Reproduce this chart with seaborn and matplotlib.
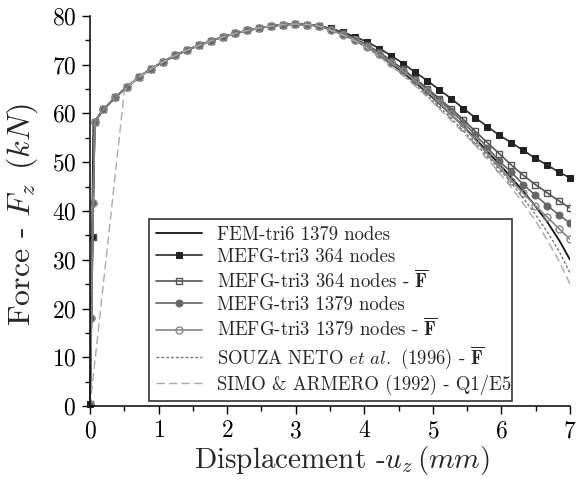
import numpy as np
import pandas as pd
import seaborn as sns
import matplotlib.pyplot as plt
from matplotlib.ticker import MultipleLocator

sns.set_style('ticks')
plt.rcParams['font.family'] = 'serif'
plt.rcParams['font.serif'] = ['cmr10', 'DejaVu Serif']
plt.rcParams['mathtext.fontset'] = 'cm'
plt.rcParams['axes.formatter.use_mathtext'] = True
plt.rcParams['axes.unicode_minus'] = False

# load-step displacements (mm) after the elastic part
u_grid = [0.195, 0.37, 0.545, 0.72, 0.895, 1.07, 1.245, 1.42, 1.595, 1.77,
          1.945, 2.12, 2.295, 2.47, 2.645, 2.82, 2.995, 3.17, 3.345,
          3.52, 3.695, 3.87, 4.045, 4.22, 4.395, 4.57, 4.745, 4.92, 5.095,
          5.27, 5.445, 5.62, 5.795, 5.97, 6.145, 6.32, 6.495, 6.67, 6.845, 7.0]

# hardening branch, same for every model (u = 0.195 ... 3.345)
f_common = [60.8, 63.3, 65.5, 67.5, 69.2, 70.6, 71.9, 73.0, 74.0, 74.9,
            75.7, 76.4, 77.0, 77.5, 77.9, 78.2, 78.3, 78.2, 77.9]

# softening branch (u = 3.52 ... 7.0)
f_fem = [77.1, 76.2, 75.0, 73.6, 72.0, 70.2, 68.3, 66.3, 64.2, 62.0,
         59.7, 57.3, 54.8, 52.2, 49.6, 46.8, 44.0, 41.0, 37.7, 33.9, 30.0]
f_364 = [77.4, 76.6, 75.7, 74.6, 73.3, 71.8, 70.2, 68.4, 66.7, 64.8,
         63.0, 61.0, 59.1, 57.3, 55.5, 54.0, 52.4, 50.8, 49.4, 47.9, 46.8]
f_364_fbar = [77.3, 76.4, 75.3, 74.0, 72.5, 70.8, 69.0, 67.1, 65.1, 63.0,
              60.9, 58.7, 56.3, 54.0, 51.7, 49.4, 47.3, 45.4, 43.7, 42.0, 40.6]
f_1379 = [77.1, 76.2, 75.1, 73.8, 72.2, 70.5, 68.7, 66.8, 64.8, 62.7,
          60.5, 58.1, 55.6, 53.0, 50.2, 47.9, 45.4, 43.2, 41.1, 39.1, 37.5]
f_1379_fbar = [77.0, 76.1, 75.0, 73.7, 72.1, 70.4, 68.6, 66.6, 64.5, 62.2,
               59.8, 57.2, 54.5, 51.7, 48.9, 46.2, 43.6, 41.1, 38.7, 36.3, 34.2]
f_souza = [77.0, 76.0, 74.8, 73.4, 71.7, 69.8, 67.9, 65.8, 63.6, 61.3,
           58.9, 56.4, 53.8, 51.2, 48.6, 45.7, 42.6, 39.3, 35.7, 31.6, 27.3]
f_simo = [77.0, 76.0, 74.8, 73.3, 71.6, 69.7, 67.7, 65.6, 63.3, 60.9,
          58.5, 56.0, 53.4, 50.7, 47.8, 44.8, 41.5, 38.0, 34.0, 29.6, 25.0]

# elastic start of each curve
u_el_fem, f_el_fem = [0.0, 0.05, 0.07], [0.0, 57.8, 58.3]
u_el_364, f_el_364 = [0.0, 0.04, 0.07], [0.5, 34.7, 58.3]
u_el_1379, f_el_1379 = [0.0, 0.02, 0.045, 0.07], [0.5, 18.0, 41.7, 58.3]
u_el_souza, f_el_souza = [0.0, 0.06], [0.0, 58.3]
u_el_simo, f_el_simo = [0.0, 0.5], [0.0, 64.5]

labels = [
    'FEM-tri6 1379 nodes',
    'MEFG-tri3 364 nodes',
    r'MEFG-tri3 364 nodes - $\overline{\mathbf{F}}$',
    'MEFG-tri3 1379 nodes',
    r'MEFG-tri3 1379 nodes - $\overline{\mathbf{F}}$',
    r'SOUZA NETO $et\ al.$ (1996) - $\overline{\mathbf{F}}$',
    'SIMO & ARMERO (1992) - Q1/E5',
]


def curve(u_el, f_el, tail):
    u = u_el + u_grid
    f = f_el + f_common + tail
    return pd.DataFrame({'u': u, 'F': f})


fig, ax = plt.subplots(figsize=(5.77, 4.79), dpi=100)
fig.subplots_adjust(left=0.156, right=0.988, bottom=0.152, top=0.967)

d = curve(u_el_fem, f_el_fem, f_fem)
sns.lineplot(data=d, x='u', y='F', ax=ax, sort=False, estimator=None,
             color='#111111', lw=1.3, label=labels[0])

d = curve(u_el_364, f_el_364, f_364)
sns.lineplot(data=d, x='u', y='F', ax=ax, sort=False, estimator=None,
             color='#2a2a2a', lw=1.2, marker='s', markersize=5,
             markerfacecolor='#222222', markeredgecolor='#222222',
             label=labels[1], clip_on=False)

d = curve(u_el_364, f_el_364, f_364_fbar)
sns.lineplot(data=d, x='u', y='F', ax=ax, sort=False, estimator=None,
             color='#555555', lw=1.2, marker='s', markersize=4.5,
             markerfacecolor='none', markeredgecolor='#555555',
             markeredgewidth=1.0, label=labels[2])

d = curve(u_el_1379, f_el_1379, f_1379)
sns.lineplot(data=d, x='u', y='F', ax=ax, sort=False, estimator=None,
             color='#666666', lw=1.2, marker='o', markersize=5,
             markerfacecolor='#666666', markeredgecolor='#666666',
             label=labels[3])

d = curve(u_el_1379, f_el_1379, f_1379_fbar)
sns.lineplot(data=d, x='u', y='F', ax=ax, sort=False, estimator=None,
             color='#888888', lw=1.2, marker='o', markersize=5,
             markerfacecolor='none', markeredgecolor='#888888',
             markeredgewidth=1.0, label=labels[4])

d = curve(u_el_souza, f_el_souza, f_souza)
sns.lineplot(data=d, x='u', y='F', ax=ax, sort=False, estimator=None,
             color='#777777', lw=1.0, linestyle=(0, (2, 1.5)),
             label=labels[5])

u = u_el_simo + u_grid[2:]
f = f_el_simo + f_common[2:] + f_simo
sns.lineplot(x=u, y=f, ax=ax, sort=False, estimator=None,
             color='#aaaaaa', lw=1.0, linestyle=(0, (6, 3)),
             label=labels[6])

ax.set_xlim(0, 7)
ax.set_ylim(0, 80)
ax.xaxis.set_major_locator(MultipleLocator(1))
ax.xaxis.set_minor_locator(MultipleLocator(0.5))
ax.yaxis.set_major_locator(MultipleLocator(10))
ax.yaxis.set_minor_locator(MultipleLocator(5))
ax.tick_params(which='major', direction='out', length=6, width=1.0, pad=4,
               labelsize=17, color='black', labelcolor='black')
ax.tick_params(which='minor', direction='out', length=3.5, width=1.0,
               color='black')
for s in ['left', 'bottom']:
    ax.spines[s].set_linewidth(1.1)
    ax.spines[s].set_color('black')
sns.despine(ax=ax)

ax.set_xlabel(r'Displacement -$u_z\,(mm)$', fontsize=21)
ax.xaxis.set_label_coords(0.525, -0.097)
ax.set_ylabel(r'Force - $F_z\ \,(kN)$', fontsize=23)
ax.yaxis.set_label_coords(-0.105, 0.49)

leg = ax.legend(loc='lower left', bbox_to_anchor=(0.123, 0.013, 0.756, 0.472),
                mode='expand', fontsize=13.5, frameon=True, fancybox=False,
                edgecolor='#333333', borderaxespad=0, handlelength=2.5,
                handletextpad=0.8, labelspacing=0.2, borderpad=0.35)
leg.get_frame().set_linewidth(1.2)
leg.get_frame().set_facecolor('white')
leg.get_frame().set_alpha(1)

fig.savefig('out.png', dpi=100)
